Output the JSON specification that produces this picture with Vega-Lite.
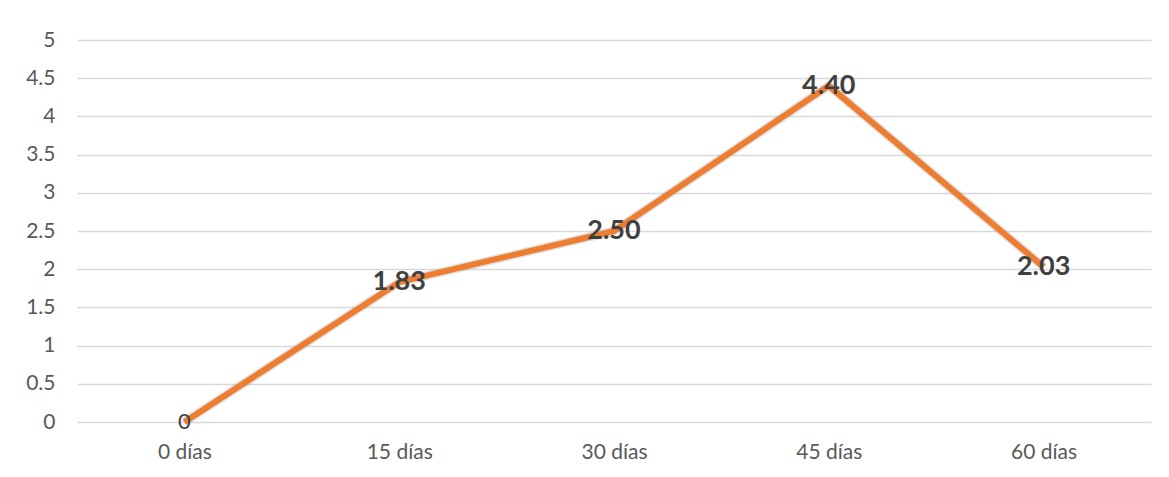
{
  "$schema": "https://vega.github.io/schema/vega-lite/v6.json",
  "autosize": {"type": "none"},
  "width": 1074,
  "height": 382,
  "padding": {"left": 77, "top": 40, "right": 18, "bottom": 55},
  "background": "white",
  "config": {
    "view": {"stroke": null},
    "font": "Lato"
  },
  "data": {
    "values": [
      {"dia": "0 días", "valor": 0, "etiqueta": "0", "fuerte": false},
      {"dia": "15 días", "valor": 1.83, "etiqueta": "1.83", "fuerte": true},
      {"dia": "30 días", "valor": 2.5, "etiqueta": "2.50", "fuerte": true},
      {"dia": "45 días", "valor": 4.4, "etiqueta": "4.40", "fuerte": true},
      {"dia": "60 días", "valor": 2.03, "etiqueta": "2.03", "fuerte": true}
    ]
  },
  "encoding": {
    "x": {
      "field": "dia",
      "type": "ordinal",
      "sort": null,
      "scale": {"type": "point", "padding": 0.5},
      "axis": {
        "title": null,
        "labelAngle": 0,
        "domain": false,
        "ticks": false,
        "labelFontSize": 21,
        "labelColor": "#595959",
        "labelPadding": 19,
        "labelFont": "Lato"
      }
    },
    "y": {
      "field": "valor",
      "type": "quantitative",
      "scale": {"domain": [0, 5], "nice": false},
      "axis": {
        "title": null,
        "values": [0, 0.5, 1, 1.5, 2, 2.5, 3, 3.5, 4, 4.5, 5],
        "format": "~g",
        "domain": false,
        "ticks": false,
        "grid": true,
        "gridColor": "#d9d9d9",
        "gridWidth": 1.3,
        "labelFontSize": 21,
        "labelColor": "#595959",
        "labelPadding": 22,
        "labelFont": "Lato"
      }
    }
  },
  "layer": [
    {
      "mark": {"type": "line", "stroke": "#8a8a8a", "strokeWidth": 9, "opacity": 0.25, "strokeJoin": "round"}
    },
    {
      "mark": {"type": "line", "stroke": "#ED7D31", "strokeWidth": 6, "strokeJoin": "round"}
    },
    {
      "transform": [{"filter": "datum.fuerte"}],
      "mark": {"type": "text", "fontSize": 27, "fontWeight": "bold", "color": "#404040", "align": "center", "baseline": "middle", "font": "Lato"},
      "encoding": {"text": {"field": "etiqueta"}}
    },
    {
      "transform": [{"filter": "!datum.fuerte"}],
      "mark": {"type": "text", "fontSize": 22, "color": "#404040", "align": "center", "baseline": "middle", "font": "Lato"},
      "encoding": {"text": {"field": "etiqueta"}}
    }
  ]
}
